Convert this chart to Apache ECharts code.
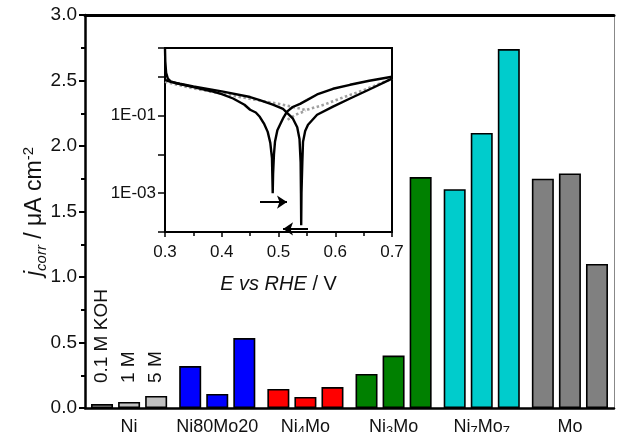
<!DOCTYPE html>
<html><head><meta charset="utf-8">
<script src="https://cdn.jsdelivr.net/npm/echarts@6/dist/echarts.min.js"></script>
<style>html,body{margin:0;padding:0;background:#fff}#c{width:618px;height:432px}</style>
</head><body><div id="c"></div>
<script>
// ---------- main bar chart data ----------
const categories = ['Ni', 'Ni80Mo20', 'Ni4Mo', 'Ni3Mo', 'Ni7Mo7', 'Mo'];
const categoryLabels = ['{n|Ni}', '{n|Ni80Mo20}', '{n|Ni}{s|4}{n|Mo}', '{n|Ni}{s|3}{n|Mo}', '{n|Ni}{s|7}{n|Mo}{s|7}', '{n|Mo}'];
const seriesNames = ['0.1 M KOH', '1 M', '5 M'];
const conc01 = [0.03, 0.32, 0.145, 0.26, 1.67, 1.75];
const conc1 = [0.046, 0.107, 0.084, 0.40, 2.10, 1.79];
const conc5 = [0.092, 0.534, 0.16, 1.763, 2.74, 1.10];
const barColors = ['#c0c0c0', '#0000ff', '#ff0000', '#008000', '#00cccc', '#808080'];
const yMin = 0, yMax = 3, yInterval = 0.5;

// ---------- inset Tafel data: [E / V, j] ----------
const curveA = [[0.300,5.25],[0.3005,2.5],[0.302,1.26],[0.305,0.89],[0.31,0.76],[0.32,0.68],[0.35,0.54],[0.38,0.43],[0.40,0.355],[0.42,0.275],[0.44,0.19],[0.45,0.141],[0.46,0.12],[0.467,0.093],[0.475,0.06],[0.481,0.038],[0.4855,0.02],[0.4885,0.008],[0.4898,0.001],[0.4905,0.0032],[0.492,0.01],[0.4938,0.021],[0.498,0.042],[0.5026,0.058],[0.509,0.09],[0.515,0.126],[0.525,0.166],[0.538,0.2],[0.55,0.25],[0.568,0.35],[0.596,0.49],[0.626,0.62],[0.66,0.79],[0.70,1.0]];
const curveB = [[0.300,0.83],[0.31,0.74],[0.326,0.66],[0.35,0.56],[0.40,0.42],[0.45,0.30],[0.467,0.25],[0.49,0.19],[0.508,0.148],[0.5255,0.083],[0.533,0.05],[0.537,0.025],[0.539,0.0063],[0.5396,0.001],[0.5400,0.00015],[0.5405,0.001],[0.542,0.0063],[0.5432,0.021],[0.547,0.04],[0.552,0.058],[0.568,0.105],[0.596,0.17],[0.626,0.275],[0.66,0.47],[0.70,0.89]];
const dottedA = [[0.30,0.74],[0.32,0.63],[0.35,0.5],[0.40,0.37],[0.4586,0.255],[0.50,0.2],[0.5326,0.158],[0.548,0.138],[0.58,0.19],[0.617,0.305],[0.65,0.45],[0.70,0.89]];
const dottedB = [[0.516,0.078],[0.53,0.105],[0.548,0.133]];
const arrowRight = [[0.4674, 0.00059], [0.515, 0.00059]];
const arrowLeft = [[0.552, 0.00012], [0.508, 0.00012]];
const insetXMin = 0.3, insetXMax = 0.7, insetXInterval = 0.1;
const insetYMin = 0.0001, insetYMax = 5.5;
const insetYTickLabels = { '-1': '1E-01', '-3': '1E-03' };

const FONT = 'Liberation Sans, Arial, Helvetica, sans-serif';
const chart = echarts.init(document.getElementById('c'), null, { renderer: 'canvas' });

const concData = [conc01, conc1, conc5];
const labelDist = [21, 19, 13];
const barSeries = concData.map((arr, si) => ({
  type: 'bar', name: seriesNames[si], xAxisIndex: 0, yAxisIndex: 0,
  barWidth: 22, barGap: '23%',
  data: arr.map((v, ci) => {
    const item = { value: v, itemStyle: { color: barColors[ci], borderColor: '#000', borderWidth: 1.6 } };
    if (ci === 0) {
      item.label = { show: true, formatter: seriesNames[si], position: 'top', distance: labelDist[si],
        rotate: 90, align: 'left', verticalAlign: 'middle', fontSize: 19, color: '#111', fontFamily: FONT };
    }
    return item;
  })
}));

const lineBase = { type: 'line', xAxisIndex: 2, yAxisIndex: 2, showSymbol: false, symbol: 'none', silent: true, z: 5 };

chart.setOption({
  animation: false,
  backgroundColor: '#fff',
  textStyle: { fontFamily: FONT },
  grid: [
    { left: 85, top: 15, width: 529, height: 393, containLabel: false, outerBoundsMode: 'none' },
    { left: 165, top: 48, width: 227, height: 184, containLabel: false, outerBoundsMode: 'none',
      show: true, backgroundColor: '#fff', borderColor: '#000', borderWidth: 2, z: 3 }
  ],
  xAxis: [
    { type: 'category', gridIndex: 0, data: categories, position: 'bottom',
      axisLine: { lineStyle: { color: '#000', width: 2.5 } }, axisTick: { show: false },
      axisLabel: { interval: 0, margin: 8, color: '#111', formatter: (v, i) => categoryLabels[i],
        rich: { n: { fontSize: 18, fontFamily: FONT, color: '#111', lineHeight: 22 },
                s: { fontSize: 13, fontFamily: FONT, color: '#111', lineHeight: 13, verticalAlign: 'bottom' } } } },
    { type: 'value', gridIndex: 0, position: 'top', min: 0, max: 1,
      axisLine: { show: true, onZero: false, lineStyle: { color: '#000', width: 3 } },
      axisTick: { show: false }, axisLabel: { show: false }, splitLine: { show: false } },
    { type: 'value', gridIndex: 1, min: insetXMin, max: insetXMax, interval: insetXInterval,
      axisLine: { onZero: false, lineStyle: { color: '#000', width: 2 } },
      axisTick: { show: true, length: 5, lineStyle: { color: '#000', width: 1.5 } },
      minorTick: { show: true, splitNumber: 2, length: 4, lineStyle: { color: '#000', width: 1.5 } },
      axisLabel: { fontSize: 17, color: '#111', margin: 12, formatter: v => v.toFixed(1) },
      splitLine: { show: false },
      name: '{i|E vs RHE}{n| / V}', nameLocation: 'middle', nameGap: 42, nameMoveOverlap: false,
      nameTextStyle: { rich: { i: { fontSize: 20, fontStyle: 'italic', color: '#111', fontFamily: FONT },
                               n: { fontSize: 20, color: '#111', fontFamily: FONT } } } }
  ],
  yAxis: [
    { type: 'value', gridIndex: 0, min: yMin, max: yMax, interval: yInterval,
      axisLine: { show: true, lineStyle: { color: '#000', width: 2.5 } },
      axisTick: { show: true, inside: false, length: 6, lineStyle: { color: '#000', width: 2 } },
      minorTick: { show: true, splitNumber: 2, length: 4, lineStyle: { color: '#000', width: 2 } },
      axisLabel: { fontSize: 19, color: '#111', margin: 8, formatter: v => v.toFixed(1) },
      splitLine: { show: false },
      name: '{i|j}{sub|corr}{n| / μA cm}{sup|-2}', nameLocation: 'middle', nameRotate: 90, nameGap: 36,
      nameMoveOverlap: false,
      nameTextStyle: { rich: {
        i: { fontSize: 23, fontStyle: 'italic', color: '#111', fontFamily: FONT, lineHeight: 28 },
        sub: { fontSize: 15, fontStyle: 'italic', color: '#111', fontFamily: FONT, lineHeight: 15, verticalAlign: 'bottom' },
        n: { fontSize: 23, color: '#111', fontFamily: FONT, lineHeight: 28 },
        sup: { fontSize: 15, color: '#111', fontFamily: FONT, lineHeight: 15, verticalAlign: 'top' } } } },
    { type: 'value', gridIndex: 0, position: 'right', min: yMin, max: yMax,
      axisLine: { show: true, lineStyle: { color: '#888', width: 1 } },
      axisTick: { show: false }, axisLabel: { show: false }, splitLine: { show: false } },
    { type: 'log', gridIndex: 1, logBase: 10, min: insetYMin, max: insetYMax,
      axisLine: { show: true, lineStyle: { color: '#000', width: 2 } },
      axisTick: { show: true, length: 7, lineStyle: { color: '#000', width: 1.5 } },
      axisLabel: { fontSize: 17, color: '#111', margin: 9, showMinLabel: true, showMaxLabel: true,
        formatter: v => { const l = Math.log10(v); const e = Math.round(l);
          return (Math.abs(l - e) < 1e-6 && insetYTickLabels[e]) ? insetYTickLabels[e] : ''; } },
      splitLine: { show: false } }
  ],
  series: [
    ...barSeries,
    Object.assign({}, lineBase, { data: dottedA, lineStyle: { color: '#a0a0a0', width: 2.6, type: [2.5, 2.5] } }),
    Object.assign({}, lineBase, { data: dottedB, lineStyle: { color: '#a0a0a0', width: 2.6, type: [2.5, 2.5] } }),
    Object.assign({}, lineBase, { data: curveA, z: 6, lineStyle: { color: '#000', width: 2.4 } }),
    Object.assign({}, lineBase, { data: curveB, z: 6, lineStyle: { color: '#000', width: 2.4 },
      markLine: { silent: true, symbol: ['none', 'arrow'], symbolSize: [10, 10], label: { show: false },
        lineStyle: { color: '#000', width: 2, type: 'solid' },
        data: [
          [{ coord: arrowRight[0] }, { coord: arrowRight[1] }],
          [{ coord: arrowLeft[0] }, { coord: arrowLeft[1] }]
        ] } })
  ]
});
</script></body></html>
